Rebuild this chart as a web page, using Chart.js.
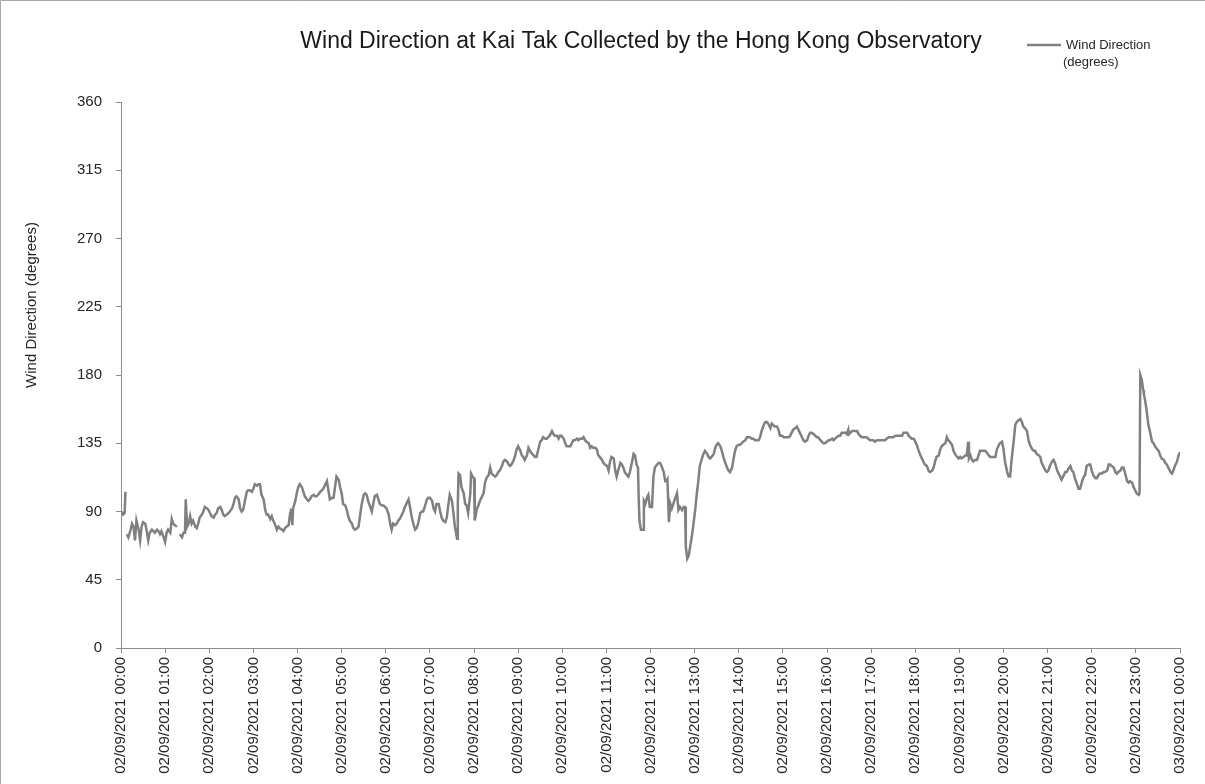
<!DOCTYPE html>
<html>
<head>
<meta charset="utf-8">
<script src="https://cdn.jsdelivr.net/npm/chart.js@4"></script>
<style>
  html, body { margin: 0; padding: 0; background: #fff; }
  #wrap { position: relative; width: 1205px; height: 784px; }
</style>
</head>
<body>
<div id="wrap"><canvas id="windChart" width="1205" height="784"></canvas></div>
<script>
// minutes after 02/09/2021 00:00 (null = missing reading)
const minutes = [
  1, 3, 5, 6, 7,
  8, 10, 12, 15, 17, 19, 21, 24, 26, 28, 30, 33, 35, 37, 39, 42, 44, 46, 49, 51, 53, 55, 58, 60,
  62, 64, 67, 69, 71, 73, 76, 78,
  80, 83, 85, 87, 88, 90, 92, 94, 96, 98, 101, 103, 105, 107, 110, 112, 114, 117, 119,
  121, 123, 126, 128, 130, 132, 135, 137, 139, 141, 144, 146, 148, 151, 153, 155, 157, 160, 162, 164, 166, 169, 171, 173, 175, 178,
  180, 182, 185, 187, 189, 191, 194, 196, 198, 200, 203, 205, 207, 209, 212, 214, 216, 219, 221, 223, 225, 228, 230, 231, 233, 234, 237, 239,
  241, 243, 246, 248, 250, 253, 255, 257, 259, 262, 264, 266, 268, 271, 273, 275, 277, 280, 282, 284, 287, 289, 291, 293, 296, 298,
  300, 302, 305, 307, 309, 311, 314, 316, 318, 321, 323, 325, 327, 330, 332, 334, 336, 339, 341, 343, 345, 348, 350, 352, 355, 357, 359,
  361, 364, 366, 368, 370, 373, 375, 377, 379, 382, 384, 386, 389, 391, 393, 395, 398, 400, 402, 404, 407, 409, 411, 413, 416, 418,
  420, 423, 425, 427, 429, 432, 434, 436, 438, 441, 443, 445, 447, 450, 452, 454, 457, 458, 459, 461, 463, 466, 468, 470, 472, 475, 476, 478,
  480, 481, 484, 486, 488, 491, 493, 495, 497, 500, 502, 504, 506, 509, 511, 513, 515, 518, 520, 522, 525, 527, 529, 531, 534, 536, 538,
  540, 543, 545, 547, 549, 552, 554, 556, 559, 561, 563, 565, 568, 570, 572, 574, 577, 579, 581, 583, 586, 588, 590, 593, 595, 597, 599,
  602, 604, 606, 608, 611, 613, 615, 617, 620, 622, 624, 627, 629, 631, 633, 636, 638, 640, 642, 645, 647, 649, 651, 654, 656, 658,
  661, 663, 665, 667, 670, 672, 674, 676, 679, 681, 683, 685, 688, 690, 692, 695, 697, 699, 701, 703, 704, 705, 707, 710, 711, 713, 715, 717, 719,
  722, 724, 726, 729, 731, 733, 735, 738, 740, 742, 743, 744, 745, 747, 749, 751, 753, 756, 758, 760, 763, 765, 767, 768, 770, 772, 774, 776, 778,
  781, 783, 785, 787, 790, 792, 794, 797, 799, 801, 803, 806, 808, 810, 812, 815, 817, 819, 821, 824, 826, 828, 831, 833, 835, 837,
  840, 842, 844, 846, 849, 851, 853, 855, 858, 860, 862, 865, 867, 869, 871, 874, 876, 878, 880, 883, 885, 887, 889, 892, 894, 896, 899,
  901, 903, 905, 908, 910, 912, 914, 917, 919, 921, 923, 926, 928, 930, 933, 935, 937, 939, 942, 944, 946, 948, 951, 953, 955, 957,
  960, 962, 964, 967, 969, 971, 973, 976, 978, 980, 982, 985, 987, 989, 990, 992, 994, 996, 998, 1001, 1003, 1005, 1007, 1010, 1012, 1014, 1016, 1019,
  1021, 1023, 1025, 1028, 1030, 1032, 1035, 1037, 1039, 1041, 1044, 1046, 1048, 1050, 1053, 1055, 1057, 1059, 1062, 1064, 1066, 1069, 1071, 1073, 1075, 1078,
  1080, 1082, 1084, 1087, 1089, 1091, 1093, 1096, 1098, 1100, 1103, 1105, 1107, 1109, 1112, 1114, 1116, 1118, 1121, 1123, 1125, 1127, 1130, 1132, 1134, 1137, 1139,
  1141, 1143, 1146, 1148, 1150, 1152, 1153, 1155, 1157, 1159, 1161, 1164, 1166, 1168, 1171, 1173, 1175, 1177, 1180, 1182, 1184, 1186, 1189, 1191, 1193, 1195, 1198,
  1200, 1202, 1205, 1207, 1209, 1211, 1214, 1216, 1218, 1220, 1223, 1225, 1227, 1229, 1232, 1234, 1236, 1239, 1241, 1243, 1245, 1248, 1250, 1252, 1254, 1257, 1259,
  1261, 1263, 1266, 1268, 1270, 1273, 1275, 1277, 1279, 1282, 1284, 1286, 1288, 1291, 1293, 1295, 1297, 1300, 1302, 1304, 1307, 1309, 1311, 1313, 1316, 1318,
  1320, 1322, 1325, 1327, 1329, 1331, 1334, 1336, 1338, 1341, 1343, 1345, 1347, 1350, 1352, 1354, 1356, 1359, 1361, 1363, 1365, 1368, 1370, 1372, 1375, 1377, 1379,
  1381, 1384, 1385, 1386, 1388, 1390, 1391, 1393, 1395, 1397, 1399, 1402, 1404, 1406, 1409, 1411, 1413, 1415, 1418, 1420, 1422, 1424, 1427, 1429, 1431, 1433, 1436, 1438, 1440
];

// wind direction in degrees, same order as minutes
const direction = [
  90, 88, 89, 103, null,
  75, 73, 76, 82, 80, 71, 84, 78, 71, 80, 83, 82, 77, 71, 76, 78, 77, 76, 78, 77, 75, 77, 73, 70,
  76, 78, 76, 85, 82, 81, 80, null,
  75, 73, 76, 76, 98, 80, 82, 87, 82, 84, 80, 79, 82, 86, 88, 90, 93, 92, 91,
  89, 87, 86, 88, 89, 92, 93, 91, 88, 87, 88, 89, 90, 92, 95, 99, 100, 98, 92, 90, 91, 98, 103, 104, 104, 103,
  105, 108, 107, 108, 108, 101, 98, 91, 88, 88, 85, 87, 84, 82, 78, 80, 79, 78, 77, 79, 80, 81, 89, 92, 81, 92, 97, 102,
  106, 108, 106, 103, 100, 98, 97, 98, 100, 101, 100, 100, 101, 103, 104, 105, 107, 110, 104, 98, 99, 99, 106, 113, 111, 106,
  102, 95, 94, 91, 87, 84, 82, 79, 78, 79, 80, 87, 94, 101, 102, 101, 97, 93, 90, 95, 100, 101, 98, 95, 94, 94, 93,
  92, 88, 82, 78, 82, 81, 82, 84, 85, 88, 90, 93, 96, 98, 93, 87, 81, 78, 79, 82, 89, 90, 90, 93, 98, 99,
  99, 97, 92, 90, 95, 95, 90, 86, 84, 83, 86, 94, 101, 97, 89, 80, 72, 95, 115, 114, 106, 102, 95, 94, 89, 102, 115, 113,
  112, 84, 92, 94, 97, 100, 102, 109, 112, 114, 119, 115, 114, 113, 114, 116, 117, 120, 123, 124, 123, 121, 120, 121, 124, 127, 131,
  133, 130, 127, 126, 124, 127, 132, 130, 128, 127, 126, 126, 132, 136, 137, 139, 138, 138, 139, 140, 143, 141, 140, 140, 138, 140, 140,
  138, 135, 133, 133, 133, 135, 137, 137, 138, 137, 138, 138, 139, 137, 136, 135, 132, 133, 132, 132, 131, 127, 126, 124, 122, 121,
  120, 117, 123, 126, 125, 117, 113, 117, 122, 121, 119, 116, 114, 113, 116, 123, 128, 127, 121, 119, 98, 84, 78, 78, 97, 95, 99, 101, 93,
  93, 113, 119, 121, 122, 122, 120, 116, 110, 110, 111, 98, 83, 95, 92, 95, 98, 102, 91, 93, 91, 93, 93, 67, 59, 61, 67, 73, 80,
  92, 102, 110, 120, 125, 128, 130, 128, 126, 125, 126, 128, 132, 134, 135, 133, 130, 126, 123, 119, 117, 116, 119, 125, 130, 133,
  134, 134, 135, 136, 137, 139, 139, 139, 138, 138, 137, 137, 137, 139, 143, 147, 149, 149, 148, 145, 148, 147, 146, 146, 144, 140, 140,
  139, 139, 139, 139, 140, 142, 144, 145, 146, 144, 142, 139, 137, 136, 137, 140, 142, 142, 141, 140, 139, 139, 137, 136, 135, 135,
  136, 137, 137, 138, 137, 138, 139, 140, 140, 142, 142, 142, 141, 144, 141, 142, 143, 143, 143, 143, 141, 140, 139, 139, 139, 139, 138, 137,
  137, 137, 136, 137, 137, 137, 137, 137, 137, 138, 139, 139, 139, 139, 140, 140, 140, 140, 140, 142, 142, 142, 140, 139, 138, 138,
  136, 134, 131, 127, 125, 123, 121, 120, 117, 116, 117, 119, 123, 126, 127, 131, 133, 134, 135, 139, 137, 136, 134, 130, 128, 126, 125,
  126, 125, 126, 127, 127, 136, 125, 127, 124, 123, 124, 124, 127, 130, 130, 130, 130, 129, 127, 126, 126, 126, 126, 131, 133, 135, 136,
  131, 123, 116, 113, 113, 124, 137, 147, 149, 150, 151, 149, 146, 145, 143, 137, 134, 131, 130, 130, 128, 127, 126, 122, 120, 117, 116,
  117, 120, 123, 124, 122, 117, 115, 113, 111, 114, 116, 116, 118, 120, 117, 116, 112, 108, 105, 105, 110, 113, 114, 120, 121, 121,
  117, 114, 112, 112, 114, 115, 115, 116, 116, 117, 121, 121, 120, 119, 116, 115, 116, 117, 119, 119, 116, 110, 109, 110, 109, 106, 104,
  102, 101, 102, 180, 177, 170, 167, 162, 155, 147, 143, 136, 135, 133, 131, 130, 127, 125, 124, 122, 121, 119, 116, 115, 117, 120, 123, 127, 129
];

const hourLabels = [
  '02/09/2021 00:00', '02/09/2021 01:00', '02/09/2021 02:00', '02/09/2021 03:00',
  '02/09/2021 04:00', '02/09/2021 05:00', '02/09/2021 06:00', '02/09/2021 07:00',
  '02/09/2021 08:00', '02/09/2021 09:00', '02/09/2021 10:00', '02/09/2021 11:00',
  '02/09/2021 12:00', '02/09/2021 13:00', '02/09/2021 14:00', '02/09/2021 15:00',
  '02/09/2021 16:00', '02/09/2021 17:00', '02/09/2021 18:00', '02/09/2021 19:00',
  '02/09/2021 20:00', '02/09/2021 21:00', '02/09/2021 22:00', '02/09/2021 23:00',
  '03/09/2021 00:00'
];

const chartTitle = 'Wind Direction at Kai Tak Collected by the Hong Kong Observatory';
const yTitle = 'Wind Direction (degrees)';
const legendLines = ['Wind Direction', '(degrees)'];

const FONT = "'Liberation Sans', Arial, sans-serif";
const LINE_GREY = '#808080';
const TEXT = '#262626';
const AXIS = '#8c8c8c';

// frame, titles and the little legend in the top right corner
const decorations = {
    id: 'decorations',
    afterDraw(chart) {
        const ctx = chart.ctx;
        ctx.save();
        ctx.strokeStyle = '#a6a6a6';
        ctx.lineWidth = 1;
        ctx.beginPath();
        ctx.moveTo(0.5, chart.height);
        ctx.lineTo(0.5, 0.5);
        ctx.lineTo(chart.width, 0.5);
        ctx.stroke();

        ctx.fillStyle = '#1a1a1a';
        ctx.font = '23px ' + FONT;
        ctx.textAlign = 'center';
        ctx.textBaseline = 'middle';
        ctx.fillText(chartTitle, 641, 42);

        // y axis title, sits a bit above the middle of the axis
        ctx.save();
        ctx.translate(32, 305);
        ctx.rotate(-Math.PI / 2);
        ctx.fillStyle = TEXT;
        ctx.font = '15px ' + FONT;
        ctx.fillText(yTitle, 0, 0);
        ctx.restore();

        ctx.strokeStyle = LINE_GREY;
        ctx.lineWidth = 2.5;
        ctx.beginPath();
        ctx.moveTo(1027, 45);
        ctx.lineTo(1061, 45);
        ctx.stroke();

        ctx.fillStyle = TEXT;
        ctx.font = '13px ' + FONT;
        ctx.textAlign = 'left';
        ctx.fillText(legendLines[0], 1066, 45);
        ctx.fillText(legendLines[1], 1063, 62);
        ctx.restore();
    }
};

new Chart(document.getElementById('windChart').getContext('2d'), {
    type: 'line',
    data: {
        datasets: [{
            label: 'Wind Direction (degrees)',
            data: minutes.map((m, i) => ({ x: m, y: direction[i] })),
            borderColor: LINE_GREY,
            borderWidth: 2.5,
            pointRadius: 0,
            tension: 0,
            spanGaps: false,
        }],
    },
    options: {
        responsive: false,
        animation: false,
        layout: { padding: { top: 102, right: 25, bottom: 0, left: 0 } },
        plugins: {
            legend: { display: false },
            title: { display: false },
            tooltip: { enabled: false },
        },
        scales: {
            x: {
                type: 'linear',
                min: 0,
                max: 1440,
                afterFit: (s) => { s.height = 136; },
                afterBuildTicks: (s) => {
                    s.ticks = hourLabels.map((_, i) => ({ value: i * 60 }));
                },
                grid: { display: true, drawOnChartArea: false, color: AXIS, tickLength: 5 },
                border: { color: AXIS, width: 1 },
                ticks: {
                    color: TEXT,
                    font: { family: FONT, size: 15 },
                    maxRotation: 90,
                    minRotation: 90,
                    autoSkip: false,
                    padding: 4,
                    callback: (value) => hourLabels[Math.round(value / 60)],
                },
            },
            y: {
                min: 0,
                max: 360,
                afterFit: (s) => { s.width = 121; },
                grid: { display: true, drawOnChartArea: false, color: AXIS, tickLength: 5 },
                border: { color: AXIS, width: 1 },
                ticks: {
                    stepSize: 45,
                    color: TEXT,
                    font: { family: FONT, size: 15 },
                    padding: 14,
                },
            },
        },
    },
    plugins: [decorations],
});
</script>
</body>
</html>
